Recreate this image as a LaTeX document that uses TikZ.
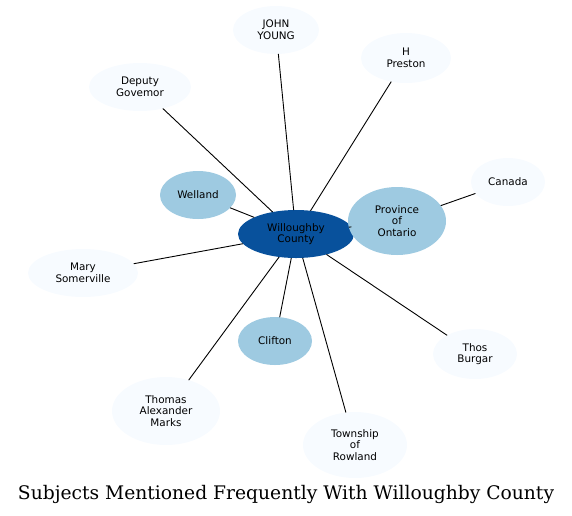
\documentclass[tikz,border=0pt]{standalone}
\usepackage{fontspec}
\setmainfont{DejaVu Sans}
\newfontfamily\titlefont{DejaVu Serif}
\usetikzlibrary{shapes.geometric}
\definecolor{bpale}{HTML}{F7FBFF}
\definecolor{bmid}{HTML}{9ECAE1}
\definecolor{bdark}{HTML}{08519C}
\begin{document}
\begin{tikzpicture}[x=1pt,y=-1pt,
  ell/.style={ellipse,inner sep=0pt,outer sep=0pt,align=center,font=\fontsize{10.4}{11.6}\selectfont},
  outer/.style={ell,fill=bpale},
  inner/.style={ell,fill=bmid},
  hub/.style={ell,fill=bdark},
  link/.style={draw=black,line width=0.9pt}]
\useasboundingbox (0,0) rectangle (572,515);
\node[hub,minimum width=116pt,minimum height=48pt] (wc) at (296,234) {Willoughby\\County};
\node[inner,minimum width=98pt,minimum height=68pt] (po) at (397,221) {Province\\of\\Ontario};
\node[inner,minimum width=76pt,minimum height=48pt] (we) at (198,195) {Welland};
\node[inner,minimum width=74pt,minimum height=48pt] (cl) at (275,341) {Clifton};
\node[outer,minimum width=74pt,minimum height=48pt] (ca) at (508,182) {Canada};
\node[outer,minimum width=86pt,minimum height=48pt] (jy) at (276,30) {JOHN\\YOUNG};
\node[outer,minimum width=90pt,minimum height=50pt] (hp) at (406,58) {H\\Preston};
\node[outer,minimum width=102pt,minimum height=48pt] (dg) at (140,87) {Deputy\\Govemor};
\node[outer,minimum width=110pt,minimum height=48pt] (ms) at (83,273) {Mary\\Somerville};
\node[outer,minimum width=108pt,minimum height=68pt] (tm) at (166,411) {Thomas\\Alexander\\Marks};
\node[outer,minimum width=104pt,minimum height=66pt] (tr) at (355,445) {Township\\of\\Rowland};
\node[outer,minimum width=84pt,minimum height=50pt] (tb) at (475,354) {Thos\\Burgar};
\draw[link] (wc) -- (jy);
\draw[link] (wc) -- (hp);
\draw[link] (wc) -- (dg);
\draw[link] (wc) -- (we);
\draw[link] (wc) -- (ms);
\draw[link] (wc) -- (tm);
\draw[link] (wc) -- (cl);
\draw[link] (wc) -- (tr);
\draw[link] (wc) -- (tb);
\draw[link] (wc) -- (po);
\draw[link] (po) -- (ca);
\node[font=\titlefont\fontsize{18.7}{22}\selectfont,inner sep=0pt] (title) at (286,494) {Subjects Mentioned Frequently With Willoughby County};
\end{tikzpicture}
\end{document}
